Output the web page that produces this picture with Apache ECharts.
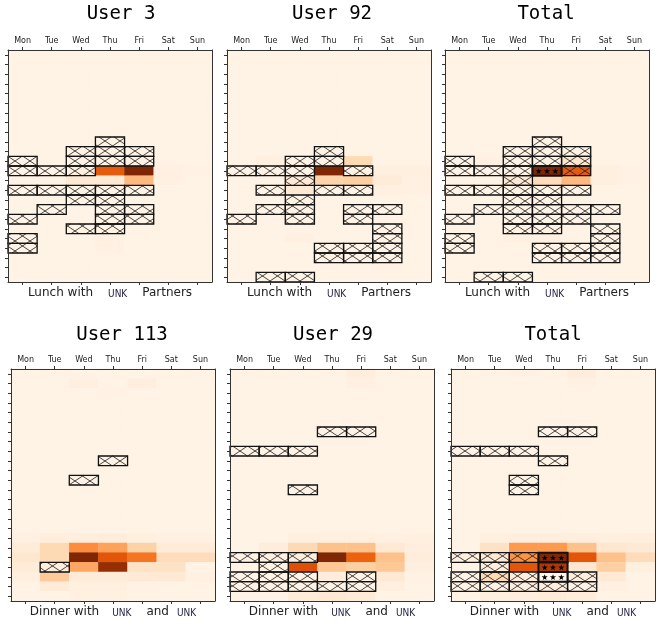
<!DOCTYPE html>
<html>
<head>
<meta charset="utf-8">
<script src="https://cdn.jsdelivr.net/npm/echarts@6/dist/echarts.min.js"></script>
<style>
  html, body { margin: 0; padding: 0; background: #fff; }
  #chart { width: 667px; height: 628px; }
</style>
</head>
<body>
<div id="chart"></div>
<script>
// ---- data -------------------------------------------------------------
const days = ['Mon', 'Tue', 'Wed', 'Thu', 'Fri', 'Sat', 'Sun'];
const hours = ['0', '1', '2', '3', '4', '5', '6', '7', '8', '9', '10', '11',
  '12', '13', '14', '15', '16', '17', '18', '19', '20', '21', '22', '23'];
const baseValue = 0.02;

// [day, hour, value] (cells not listed take baseValue)
const user3Heat = [[4, 12, 1.0], [3, 12, 0.68], [4, 13, 0.33], [2, 13, 0.1], [3, 13, 0.1],
  [5, 12, 0.04], [5, 13, 0.04], [3, 19, 0.04], [3, 20, 0.04], [2, 12, 0.05], [4, 11, 0.03], [6, 12, 0.03]];
const user92Heat = [[3, 12, 1.0], [4, 11, 0.2], [3, 13, 0.22], [4, 13, 0.25], [2, 13, 0.1], [5, 13, 0.08],
  [2, 14, 0.1], [5, 12, 0.05], [6, 12, 0.05], [5, 14, 0.04], [6, 14, 0.04], [6, 13, 0.04], [1, 11, 0.05],
  [2, 19, 0.04], [5, 22, 0.03]];
const totalTopHeat = [[3, 12, 1.0], [4, 12, 0.68], [4, 13, 0.33], [3, 13, 0.18], [2, 13, 0.1], [4, 11, 0.12],
  [5, 12, 0.05], [5, 13, 0.05], [6, 12, 0.03], [6, 13, 0.03], [2, 19, 0.04], [3, 19, 0.04], [1, 11, 0.04]];
const user113Heat = [[2, 1, 0.05], [4, 1, 0.06], [3, 2, 0.03],
  [0, 17, 0.04], [1, 17, 0.06], [2, 17, 0.06], [3, 17, 0.07], [4, 17, 0.05], [5, 17, 0.04], [6, 17, 0.04],
  [0, 18, 0.08], [1, 18, 0.2], [2, 18, 0.5], [3, 18, 0.42], [4, 18, 0.24], [5, 18, 0.08], [6, 18, 0.08],
  [0, 19, 0.12], [1, 19, 0.2], [2, 19, 1.0], [3, 19, 0.7], [4, 19, 0.58], [5, 19, 0.18], [6, 19, 0.18],
  [0, 20, 0.08], [1, 20, 0.05], [2, 20, 0.4], [3, 20, 0.93], [4, 20, 0.15], [5, 20, 0.15], [6, 20, 0.02],
  [0, 21, 0.05], [1, 21, 0.27], [2, 21, 0.08], [3, 21, 0.08], [4, 21, 0.1], [5, 21, 0.1], [6, 21, 0.04],
  [1, 22, 0.08], [2, 22, 0.05], [3, 22, 0.05], [4, 22, 0.03], [2, 23, 0.04], [3, 23, 0.04]];
const user29Heat = [[4, 0, 0.06], [4, 1, 0.04], [5, 3, 0.02],
  [2, 17, 0.05], [3, 17, 0.05], [4, 17, 0.05], [5, 17, 0.04], [6, 17, 0.05],
  [1, 18, 0.07], [2, 18, 0.2], [3, 18, 0.3], [4, 18, 0.3], [5, 18, 0.1], [6, 18, 0.06],
  [0, 19, 0.03], [1, 19, 0.04], [2, 19, 0.06], [3, 19, 1.0], [4, 19, 0.65], [5, 19, 0.3], [6, 19, 0.07],
  [2, 20, 0.72], [3, 20, 0.28], [4, 20, 0.25], [5, 20, 0.28], [6, 20, 0.05],
  [3, 21, 0.06], [5, 21, 0.1], [6, 21, 0.03], [5, 22, 0.05], [2, 23, 0.08], [3, 23, 0.1], [4, 23, 0.08]];
const totalBottomHeat = [[4, 0, 0.06], [2, 0, 0.03], [4, 1, 0.03],
  [1, 17, 0.05], [2, 17, 0.06], [3, 17, 0.06], [4, 17, 0.06], [5, 17, 0.05], [6, 17, 0.06],
  [1, 18, 0.15], [2, 18, 0.45], [3, 18, 0.45], [4, 18, 0.3], [5, 18, 0.12], [6, 18, 0.1],
  [0, 19, 0.05], [1, 19, 0.1], [2, 19, 0.48], [3, 19, 1.0], [4, 19, 0.7], [5, 19, 0.3], [6, 19, 0.18],
  [0, 20, 0.02], [1, 20, 0.06], [2, 20, 0.7], [3, 20, 0.86], [4, 20, 0.12], [5, 20, 0.25], [6, 20, 0.05],
  [1, 21, 0.2], [2, 21, 0.06], [3, 21, 0.0], [4, 21, 0.06], [5, 21, 0.1],
  [2, 22, 0.05], [3, 22, 0.06], [5, 22, 0.04], [1, 23, 0.05], [2, 23, 0.06], [3, 23, 0.08], [4, 23, 0.07]];

// [day, hour] of hatched cells
const user3Hatch = [[3, 9], [2, 10], [3, 10], [4, 10], [0, 11], [2, 11], [3, 11], [4, 11],
  [0, 12], [1, 12], [2, 12], [0, 14], [1, 14], [2, 14], [3, 14], [4, 14], [2, 15], [3, 15],
  [1, 16], [3, 16], [4, 16], [0, 17], [3, 17], [4, 17], [2, 18], [3, 18], [0, 19], [0, 20]];
const user92Hatch = [[3, 10], [3, 11], [2, 11], [2, 12], [2, 13], [0, 12], [1, 12], [4, 12],
  [1, 14], [3, 14], [4, 14], [2, 15], [1, 16], [2, 16], [4, 16], [5, 16], [0, 17], [2, 17], [4, 17],
  [5, 18], [5, 19], [3, 20], [4, 20], [5, 20], [3, 21], [4, 21], [5, 21], [1, 23], [2, 23]];
const totalTopHatch = [[3, 9], [3, 10], [3, 11], [2, 10], [2, 11], [2, 12], [2, 13], [2, 14], [2, 15],
  [2, 16], [2, 17], [2, 18], [4, 10], [4, 11], [0, 11], [0, 12], [1, 12], [4, 12],
  [0, 14], [1, 14], [3, 14], [4, 14], [3, 15], [3, 16], [3, 17], [3, 18], [1, 16], [4, 16], [5, 16],
  [0, 17], [4, 17], [5, 18], [5, 19], [5, 20], [5, 21], [0, 19], [0, 20], [3, 20], [3, 21],
  [4, 20], [4, 21], [1, 23], [2, 23]];
const user113Hatch = [[3, 9], [2, 11], [1, 20]];
const user29Hatch = [[3, 6], [4, 6], [0, 8], [1, 8], [2, 8], [2, 12], [0, 19], [1, 19], [2, 19],
  [1, 20], [0, 21], [1, 21], [2, 21], [4, 21], [0, 22], [1, 22], [2, 22], [3, 22], [4, 22]];
const totalBottomHatch = [[3, 6], [4, 6], [0, 8], [1, 8], [2, 8], [3, 9], [2, 11], [2, 12],
  [0, 19], [1, 19], [2, 19], [1, 20], [0, 21], [1, 21], [2, 21], [4, 21],
  [0, 22], [1, 22], [2, 22], [3, 22], [4, 22]];

// [day, hour] of starred cells
const totalTopStars = [[3, 12]];
const totalBottomStars = [[3, 19], [3, 20], [3, 21]];

const titles = ['User 3', 'User 92', 'Total', 'User 113', 'User 29', 'Total'];
const lunchLabel = 'Lunch with{u|UNK}Partners';
const dinnerLabel = 'Dinner with{d|UNK}{a|and}{e|UNK}';

// ---- layout -----------------------------------------------------------
const panels = [
  { heat: user3Heat, hatch: user3Hatch, stars: [], label: lunchLabel, left: 8, top: 50, tx: 121, ty: 5 },
  { heat: user92Heat, hatch: user92Hatch, stars: [], label: lunchLabel, left: 227, top: 50, tx: 332, ty: 5 },
  { heat: totalTopHeat, hatch: totalTopHatch, stars: totalTopStars, label: lunchLabel, left: 445, top: 50, tx: 546, ty: 5 },
  { heat: user113Heat, hatch: user113Hatch, stars: [], label: dinnerLabel, left: 11, top: 369, tx: 122, ty: 326 },
  { heat: user29Heat, hatch: user29Hatch, stars: [], label: dinnerLabel, left: 230, top: 369, tx: 333, ty: 326 },
  { heat: totalBottomHeat, hatch: totalBottomHatch, stars: totalBottomStars, label: dinnerLabel, left: 451, top: 369, tx: 553, ty: 326 },
];
const gridW = 204, gridH = 232;

const oranges = ['#fff5eb', '#fee6ce', '#fdd0a2', '#fdae6b', '#fd8d3c', '#f16913', '#d94801', '#a63603', '#7f2704'];

// full 7x24 table for the heatmap
function buildHeat(list) {
  const table = {};
  list.forEach(([d, h, v]) => { table[d + '_' + h] = v; });
  const out = [];
  for (let d = 0; d < days.length; d++) {
    for (let h = 0; h < hours.length; h++) {
      const key = d + '_' + h;
      out.push([d, h, key in table ? table[key] : baseValue]);
    }
  }
  return out;
}

// diamond cross-hatch, fixed in page pixels, clipped to the cell
function hatchLines(x0, y0, x1, y1) {
  const k = 2 / 3, P = 10, oy = 1, out = [];
  let bmin = y0 - oy - k * x1, bmax = y1 - oy - k * x0;
  for (let n = Math.ceil(bmin / P); n * P <= bmax; n++) {
    const b = n * P + oy;
    const xa = Math.max(x0, (y0 - b) / k), xb = Math.min(x1, (y1 - b) / k);
    if (xb > xa) out.push([xa, k * xa + b, xb, k * xb + b]);
  }
  bmin = y0 - oy + k * x0; bmax = y1 - oy + k * x1;
  for (let n = Math.ceil(bmin / P); n * P <= bmax; n++) {
    const b = n * P + oy;
    const xa = Math.max(x0, (b - y1) / k), xb = Math.min(x1, (b - y0) / k);
    if (xb > xa) out.push([xa, b - k * xa, xb, b - k * xb]);
  }
  return out;
}

function starPoints(cx, cy, R, r) {
  const pts = [];
  for (let i = 0; i < 10; i++) {
    const a = -Math.PI / 2 + i * Math.PI / 5;
    const rad = i % 2 ? r : R;
    pts.push([cx + rad * Math.cos(a), cy + rad * Math.sin(a)]);
  }
  return pts;
}

function renderMark(params, api) {
  const c = api.coord([api.value(0), api.value(1)]);
  const s = api.size([1, 1]);
  const x0 = c[0] - s[0] / 2, y0 = c[1] - s[1] / 2;
  const x1 = x0 + s[0], y1 = y0 + s[1];
  const kind = api.value(2);
  const children = [];
  if (kind === 0) {
    hatchLines(x0, y0, x1, y1).forEach(l => {
      children.push({
        type: 'line',
        shape: { x1: l[0], y1: l[1], x2: l[2], y2: l[3] },
        style: { stroke: '#1a1a1a', lineWidth: 0.8 }
      });
    });
  } else {
    [-8.3, 0, 8.3].forEach(dx => {
      children.push({
        type: 'polygon',
        shape: { points: starPoints(c[0] + dx, c[1] + 0.5, 3.2, 1.3) },
        style: { fill: '#000' }
      });
    });
  }
  children.push({
    type: 'rect',
    shape: { x: x0, y: y0, width: s[0], height: s[1] },
    style: { fill: 'none', stroke: '#111', lineWidth: kind === 0 ? 1.3 : 2 }
  });
  return { type: 'group', children };
}

const option = {
  animation: false,
  backgroundColor: '#fff',
  title: [],
  grid: [],
  xAxis: [],
  yAxis: [],
  visualMap: {
    type: 'continuous', show: false, min: 0, max: 1,
    inRange: { color: oranges },
    seriesIndex: [0, 2, 4, 6, 8, 10]
  },
  series: []
};

const frameLine = { show: true, lineStyle: { color: '#333', width: 1 } };
const unkStyle = { fontFamily: 'DejaVu Sans Condensed, DejaVu Sans', fontSize: 10, color: '#1c1c3c' };

panels.forEach((p, g) => {
  option.title.push({
    text: titles[g], left: p.tx, top: p.ty, textAlign: 'center', padding: 0,
    textStyle: { fontFamily: 'DejaVu Sans Mono', fontSize: 19, fontWeight: 'normal', color: '#000' }
  });
  option.grid.push({ left: p.left, top: p.top, width: gridW, height: gridH });
  option.xAxis.push({
    type: 'category', data: days, gridIndex: g, position: 'top', z: 10,
    axisLine: frameLine,
    axisTick: { show: true, alignWithLabel: true, interval: 0, length: 3, lineStyle: { color: '#333' } },
    axisLabel: { fontFamily: 'DejaVu Sans', fontSize: 8, color: '#222', margin: 5, interval: 0 },
    splitLine: { show: false }
  });
  option.xAxis.push({
    type: 'category', data: days, gridIndex: g, position: 'bottom', z: 10,
    axisLine: frameLine,
    axisTick: { show: true, alignWithLabel: true, interval: 0, length: 3, lineStyle: { color: '#333' } },
    axisLabel: { show: false },
    name: p.label, nameLocation: 'middle', nameGap: 5,
    nameTextStyle: {
      fontFamily: 'DejaVu Sans', fontSize: 12, color: '#222', verticalAlign: 'top',
      rich: {
        u: Object.assign({ padding: [2, 15, 0, 15] }, unkStyle),
        d: Object.assign({ padding: [2, 15, 0, 13] }, unkStyle),
        e: Object.assign({ padding: [2, 0, 0, 0] }, unkStyle),
        a: { fontFamily: 'DejaVu Sans', fontSize: 12, color: '#222', padding: [0, 8, 0, 0] }
      }
    }
  });
  option.yAxis.push({
    type: 'category', data: hours, gridIndex: g, inverse: true, position: 'left', z: 10,
    axisLine: frameLine,
    axisTick: { show: true, alignWithLabel: true, interval: 0, length: 3, lineStyle: { color: '#333' } },
    axisLabel: { show: false },
    splitLine: { show: false }
  });
  option.yAxis.push({
    type: 'category', data: hours, gridIndex: g, inverse: true, position: 'right', z: 10,
    axisLine: frameLine,
    axisTick: { show: false }, axisLabel: { show: false }, splitLine: { show: false }
  });
  option.series.push({
    type: 'heatmap', xAxisIndex: 2 * g, yAxisIndex: 2 * g,
    data: buildHeat(p.heat), itemStyle: { borderWidth: 0 }, emphasis: { disabled: true }
  });
  option.series.push({
    type: 'custom', xAxisIndex: 2 * g, yAxisIndex: 2 * g, z: 5, silent: true,
    renderItem: renderMark,
    data: p.hatch.map(([d, h]) => [d, h, 0]).concat(p.stars.map(([d, h]) => [d, h, 1]))
  });
});

const chart = echarts.init(document.getElementById('chart'));
chart.setOption(option);
</script>
</body>
</html>
